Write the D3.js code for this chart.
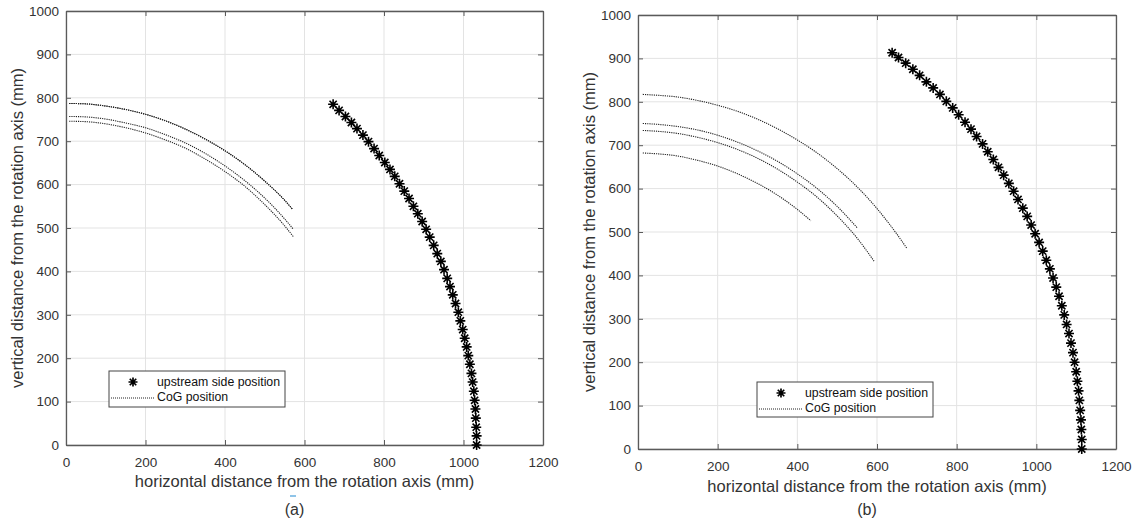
<!doctype html>
<html lang="en">
<head>
<meta charset="utf-8">
<title>Upstream side and CoG positions</title>
<script src="https://cdn.jsdelivr.net/npm/d3@7"></script>
<style>
  body { margin: 0; background: #fff; }
  svg text { font-family: "Liberation Sans", Arial, Helvetica, sans-serif; }
</style>
</head>
<body>
<svg id="chart" width="1137" height="522"></svg>
<script>
// tick values (mm)
var xTicks = [0, 200, 400, 600, 800, 1000, 1200];
var yTicks = [0, 100, 200, 300, 400, 500, 600, 700, 800, 900, 1000];

// panel (a) upstream side position
var upA_x = [1033,1033,1032,1031,1030,1028,1026,1023,1020,1016,1012,1008,1003,998,992,987,980,973,966,959,951,943,934,925,915,906,896,885,874,863,851,839,827,815,802,788,775,761,747,732,718,703,687,672];
var upA_y = [0,21,41,62,83,103,124,145,165,186,206,226,246,266,286,306,326,346,365,384,404,423,441,460,479,497,515,533,550,568,585,602,619,635,651,667,683,699,714,729,743,757,771,785];

// panel (a) CoG positions
var cogA_x = [8,50,100,150,200,250,300,350,400,450,500,550,570];
var cogA1_y = [787,786,781,773,762,747,728,705,678,646,608,564,543];
var cogA_x2 = [8,50,100,150,200,250,300,350,400,450,500,550,572];
var cogA2_y = [757,756,751,742,731,715,696,672,643,609,569,521,497];
var cogA3_y = [746,745,740,731,719,703,684,659,630,596,554,505,480];

// panel (b) upstream side position
var upB_x = [1114,1114,1113,1112,1110,1108,1106,1103,1100,1096,1092,1087,1082,1076,1070,1064,1057,1050,1042,1034,1025,1016,1007,997,987,977,966,954,943,931,918,905,892,878,865,850,836,821,805,790,774,758,741,724,707,690,672,654,638];
var upB_y = [0,22,45,67,89,112,134,156,178,200,222,244,266,287,309,330,352,373,394,415,435,456,476,496,516,536,555,575,594,612,631,649,667,685,703,720,737,753,770,786,801,817,832,846,861,875,889,902,913];

// panel (b) CoG positions
var cogB1_x = [12,50,100,150,200,250,300,350,400,450,500,550,600,650,676];
var cogB1_y = [817,815,811,803,792,778,760,738,712,682,646,604,554,495,461];
var cogB2_x = [12,50,100,150,200,250,300,350,400,450,500,550];
var cogB2_y = [750,748,743,735,723,707,687,663,634,600,559,510];
var cogB3_x = [12,50,100,150,200,250,300,350,400,450,500,550,594];
var cogB3_y = [734,732,727,718,706,690,670,645,615,580,537,486,431];
var cogB4_x = [12,50,100,150,200,250,300,350,400,434];
var cogB4_y = [682,680,675,665,652,634,612,585,552,526];

var legendLabels = ["upstream side position", "CoG position"];
var xLabel = "horizontal distance from the rotation axis (mm)";
var yLabel = "vertical distance from the rotation axis (mm)";

function zip(xs, ys) { return xs.map(function(x, i) { return {x: x, y: ys[i]}; }); }

var panels = [
  { left: 66, right: 543, top: 11, bottom: 445, tag: "(a)", tagY: 515, xLabY: 487, yLabX: 23,
    stars: zip(upA_x, upA_y),
    cogs: [zip(cogA_x, cogA1_y), zip(cogA_x, cogA1_y), zip(cogA_x2, cogA2_y), zip(cogA_x2, cogA3_y)],
    legend: {x: 109, y: 371, w: 176, h: 36} },
  { left: 638, right: 1116, top: 15, bottom: 449, tag: "(b)", tagY: 515, xLabY: 492, yLabX: 595,
    stars: zip(upB_x, upB_y),
    cogs: [zip(cogB1_x, cogB1_y), zip(cogB2_x, cogB2_y), zip(cogB3_x, cogB3_y), zip(cogB4_x, cogB4_y)],
    legend: {x: 757, y: 382, w: 176, h: 35} }
];

var svg = d3.select("#chart");

// matlab style '*' marker
function starPath(r) {
  var p = d3.path(), d = r * 0.72;
  p.moveTo(-r, 0); p.lineTo(r, 0);
  p.moveTo(0, -r); p.lineTo(0, r);
  p.moveTo(-d, -d); p.lineTo(d, d);
  p.moveTo(-d, d); p.lineTo(d, -d);
  return p.toString();
}

panels.forEach(function(P) {
  var xScale = d3.scaleLinear().domain([0, 1200]).range([P.left, P.right]);
  var yScale = d3.scaleLinear().domain([0, 1000]).range([P.bottom, P.top]);
  var g = svg.append("g");
  var fmt = d3.format("d");

  // grid
  g.selectAll("line.gx").data(xTicks).enter().append("line")
    .attr("x1", function(d) { return xScale(d); }).attr("x2", function(d) { return xScale(d); })
    .attr("y1", P.top).attr("y2", P.bottom)
    .attr("stroke", "#e3e3e3").attr("stroke-width", 1);
  g.selectAll("line.gy").data(yTicks).enter().append("line")
    .attr("y1", function(d) { return yScale(d); }).attr("y2", function(d) { return yScale(d); })
    .attr("x1", P.left).attr("x2", P.right)
    .attr("stroke", "#e3e3e3").attr("stroke-width", 1);

  // axes with inward ticks
  var axisCol = "#5a5a5a";
  var xb = g.append("g").attr("transform", "translate(0," + P.bottom + ")")
    .call(d3.axisBottom(xScale).tickValues(xTicks).tickFormat(fmt).tickSizeInner(-5).tickSizeOuter(0).tickPadding(12));
  var xt = g.append("g").attr("transform", "translate(0," + P.top + ")")
    .call(d3.axisTop(xScale).tickValues(xTicks).tickSizeInner(-5).tickSizeOuter(0).tickFormat(""));
  var yl = g.append("g").attr("transform", "translate(" + P.left + ",0)")
    .call(d3.axisLeft(yScale).tickValues(yTicks).tickFormat(fmt).tickSizeInner(-5).tickSizeOuter(0).tickPadding(7));
  var yr = g.append("g").attr("transform", "translate(" + P.right + ",0)")
    .call(d3.axisRight(yScale).tickValues(yTicks).tickSizeInner(-5).tickSizeOuter(0).tickFormat(""));
  [xb, xt, yl, yr].forEach(function(a) {
    a.select(".domain").attr("stroke", axisCol).attr("stroke-width", 1.3);
    a.selectAll(".tick line").attr("stroke", axisCol);
    a.selectAll(".tick text").attr("fill", "#333").style("font-size", "13.5px");
  });

  // CoG dotted curves
  var line = d3.line().curve(d3.curveMonotoneX)
    .x(function(d) { return xScale(d.x); })
    .y(function(d) { return yScale(d.y); });
  g.selectAll("path.cog").data(P.cogs).enter().append("path")
    .attr("class", "cog")
    .attr("d", line)
    .attr("fill", "none")
    .attr("stroke", "#222")
    .attr("stroke-width", 1.1)
    .attr("stroke-dasharray", "1.2,1");

  // upstream side stars
  g.selectAll("path.star").data(P.stars).enter().append("path")
    .attr("class", "star")
    .attr("d", starPath(5))
    .attr("transform", function(d) { return "translate(" + xScale(d.x) + "," + yScale(d.y) + ")"; })
    .attr("fill", "none").attr("stroke", "#000").attr("stroke-width", 1.6);

  // legend
  var L = P.legend;
  var lg = g.append("g").attr("transform", "translate(" + L.x + "," + L.y + ")");
  lg.append("rect").attr("width", L.w).attr("height", L.h)
    .attr("fill", "#fff").attr("stroke", "#444").attr("stroke-width", 1);
  lg.append("path").attr("d", starPath(4.5)).attr("transform", "translate(24,11)")
    .attr("stroke", "#000").attr("stroke-width", 1.7).attr("fill", "none");
  lg.append("line").attr("x1", 2).attr("x2", 45).attr("y1", 27).attr("y2", 27)
    .attr("stroke", "#222").attr("stroke-width", 1).attr("stroke-dasharray", "1,1");
  lg.selectAll("text").data(legendLabels).enter().append("text")
    .attr("x", 48).attr("y", function(d, i) { return 15 + i * 15; })
    .attr("fill", "#111").style("font-size", "12.3px")
    .text(function(d) { return d; });

  // labels
  var cx = (P.left + P.right) / 2;
  g.append("text").attr("x", cx).attr("y", P.xLabY).attr("text-anchor", "middle")
    .attr("fill", "#333").style("font-size", "16.5px").text(xLabel);
  g.append("text").attr("transform", "translate(" + P.yLabX + "," + ((P.top + P.bottom) / 2) + ") rotate(-90)")
    .attr("text-anchor", "middle").attr("fill", "#333").style("font-size", "16.5px").text(yLabel);
  g.append("text").attr("x", cx - 10).attr("y", P.tagY).attr("text-anchor", "middle")
    .attr("fill", "#333").style("font-size", "16px").text(P.tag);
});

// small blue mark under the left caption
svg.append("line").attr("x1", 290).attr("x2", 296).attr("y1", 496).attr("y2", 496)
  .attr("stroke", "#6ab0e0").attr("stroke-width", 1.5);
</script>
</body>
</html>
